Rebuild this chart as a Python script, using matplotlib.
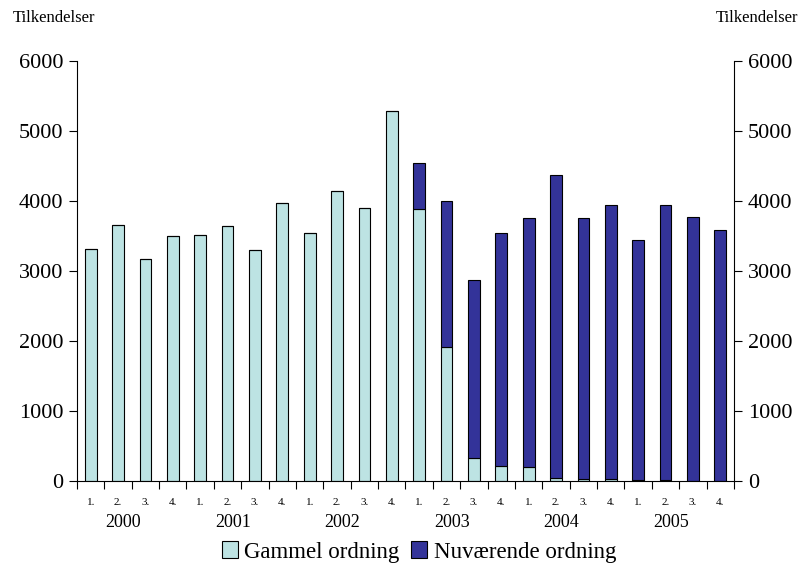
import numpy as np
import matplotlib.pyplot as plt
from matplotlib.patches import Patch
from matplotlib.transforms import blended_transform_factory

plt.rcParams['font.family'] = ['Liberation Serif', 'DejaVu Serif']

years = ['2000', '2001', '2002', '2003', '2004', '2005']
quarters = ['1.', '2.', '3.', '4.'] * 6
gammel = [3320, 3660, 3170, 3495, 3510, 3640, 3300, 3975,
          3545, 4145, 3900, 5285, 3880, 1915, 330, 220,
          200, 50, 35, 35, 12, 12, 0, 0]
total = [3320, 3660, 3170, 3495, 3510, 3640, 3300, 3975,
         3545, 4145, 3900, 5285, 4540, 3995, 2875, 3545,
         3755, 4365, 3755, 3940, 3450, 3940, 3775, 3585]
nuvaerende = [t - g for t, g in zip(total, gammel)]

c_old = '#bde3e3'
c_new = '#333399'

fig = plt.figure(figsize=(8.08, 5.67), dpi=100)
ax = fig.add_axes([77/808, 86/567, 657/808, 420/567])

x = np.arange(len(total))
ax.bar(x, gammel, width=0.43, color=c_old, edgecolor='black', linewidth=0.8)
ax.bar(x, nuvaerende, width=0.43, bottom=gammel, color=c_new, edgecolor='black', linewidth=0.8)

ax.set_xlim(-0.5, 23.5)
ax.set_ylim(0, 6000)
ax.set_yticks(range(0, 6001, 1000))
ax.tick_params(axis='y', left=True, right=True, labelleft=True, labelright=True,
               direction='out', length=6, width=0.8, labelsize=16, pad=4)
ax.set_xticks(x)
ax.set_xticklabels(quarters, fontsize=8)
ax.tick_params(axis='x', which='major', length=0, pad=12)
ax.set_xticks(np.arange(-0.5, 24, 1), minor=True)
ax.tick_params(axis='x', which='minor', length=6, width=0.8, direction='out')

ax.spines['top'].set_visible(False)
for s in ['left', 'right', 'bottom']:
    ax.spines[s].set_linewidth(0.8)

trans = blended_transform_factory(ax.transData, ax.transAxes)
for i, yr in enumerate(years):
    ax.text(4 * i + 1.2, -0.098, yr, transform=trans, ha='center', va='center', fontsize=13)

fig.text(13/808, 1 - 18/567, 'Tilkendelser', ha='left', va='center', fontsize=12)
fig.text(798/808, 1 - 18/567, 'Tilkendelser', ha='right', va='center', fontsize=12)

handles = [Patch(facecolor=c_old, edgecolor='black', linewidth=0.8, label='Gammel ordning'),
           Patch(facecolor=c_new, edgecolor='black', linewidth=0.8, label='Nuværende ordning')]
fig.legend(handles=handles, loc='center', bbox_to_anchor=(419/808, 1 - 552/567), ncol=2,
           frameon=False, fontsize=16.5, handlelength=0.7, handleheight=0.7,
           handletextpad=0.3, columnspacing=0.5, borderpad=0)

fig.savefig('out.png', dpi=100)
